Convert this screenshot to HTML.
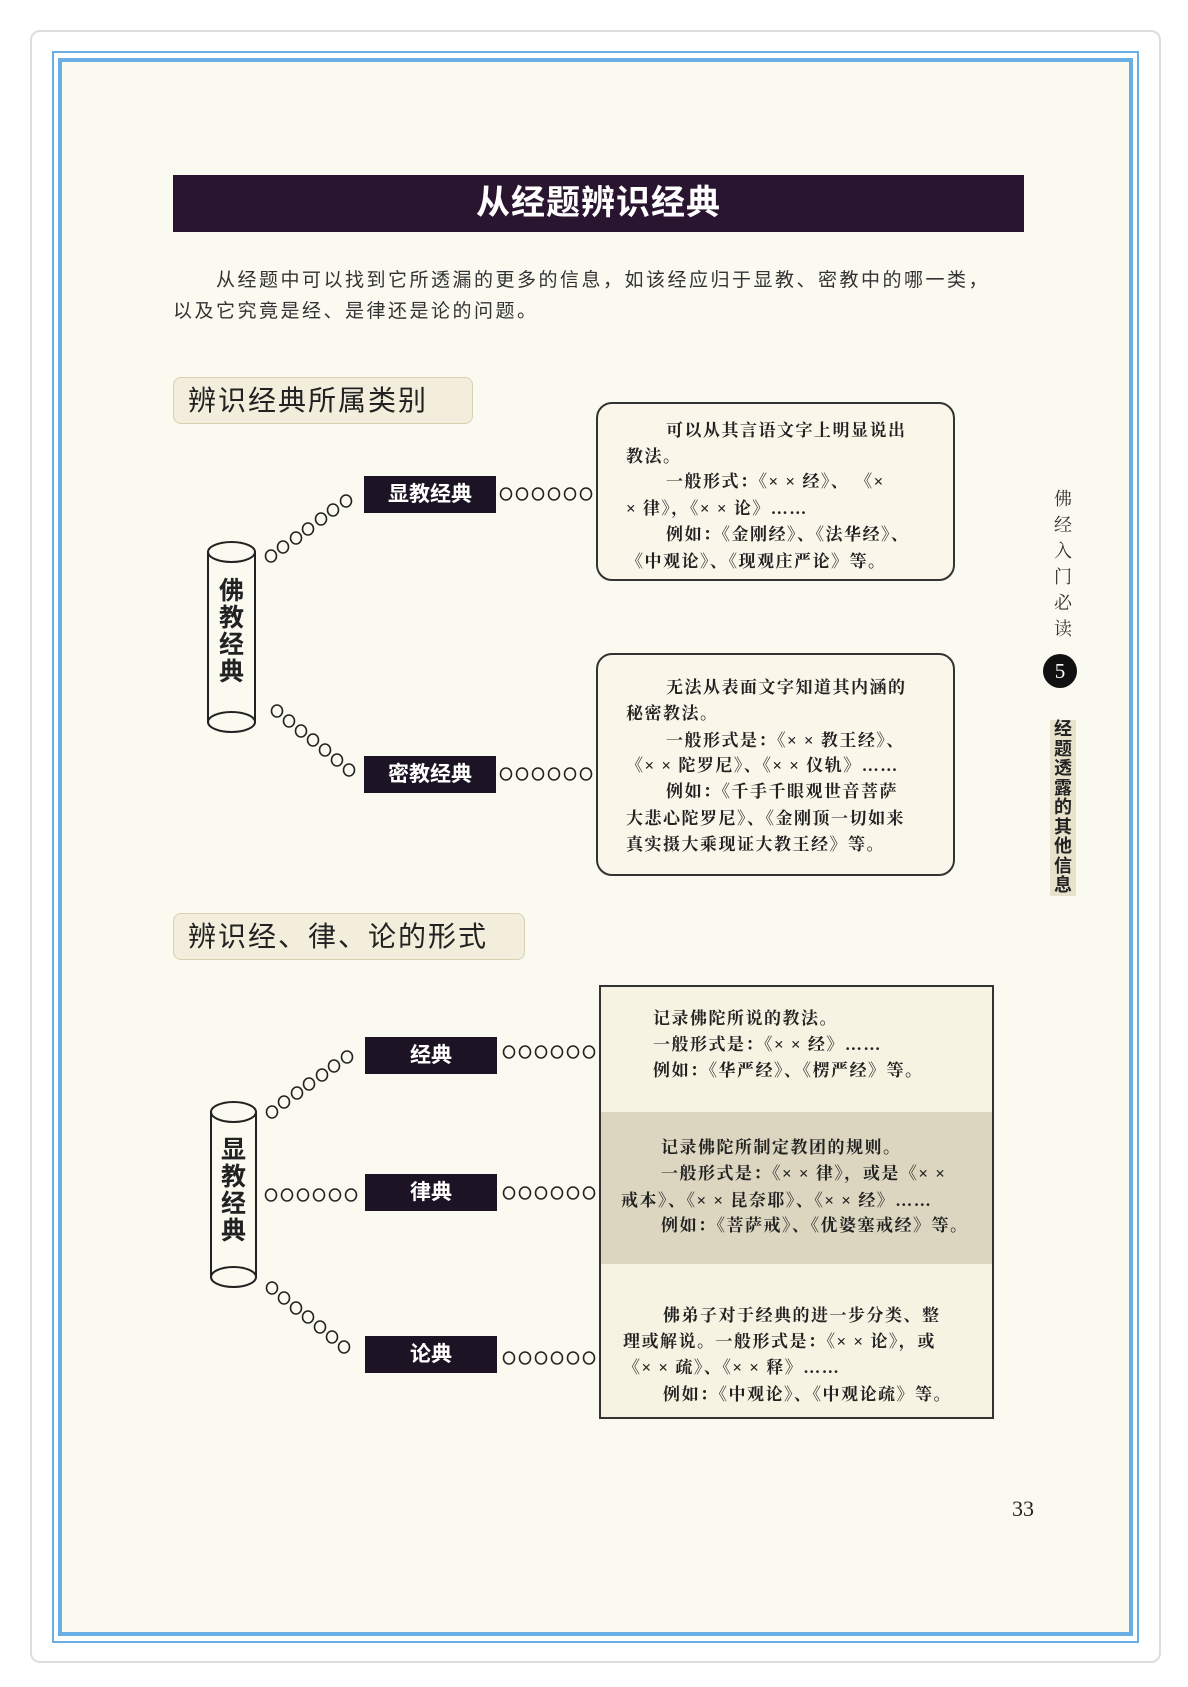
<!DOCTYPE html>
<html><head><meta charset="utf-8"><style>
*{margin:0;padding:0;box-sizing:border-box}
body{width:1188px;height:1687px;background:#fff;position:relative;overflow:hidden;font-family:"Liberation Sans","Noto Sans CJK SC",sans-serif;color:#222}
.a{position:absolute}
.card{left:30px;top:30px;width:1131px;height:1633px;border:2px solid #ddd;border-radius:10px;background:#fff}
.b1{left:52px;top:51px;width:1087px;height:1592px;border:2px solid #6aaee6}
.b2{left:58px;top:58px;width:1075px;height:1578px;border:4px solid #6aaee6;background:#fbfaf0}
.title{left:173px;top:175px;width:851px;height:57px;background:#2a1530;color:#fff;font-weight:bold;font-size:34px;text-align:center;line-height:57px;letter-spacing:1px}
.p{font-size:19px;color:#333;white-space:nowrap;letter-spacing:2.5px}
.sh{background:#f3eedc;border:1px solid #d8d0b0;border-radius:8px;font-size:28px;color:#222;padding-left:14px;line-height:45px;letter-spacing:2px}
.lab{background:#1c1424;color:#fff;font-size:21px;text-align:center;font-weight:bold}
.rb{border:2px solid #333;border-radius:16px;background:#faf7ea}
.t{font-family:"Liberation Serif","Noto Serif CJK SC",serif;font-size:17px;font-weight:bold;color:#222;white-space:nowrap;letter-spacing:1.5px}
</style></head><body>
<div class="a card"></div>
<div class="a b1"></div>
<div class="a b2"></div>
<div class="a title">从经题辨识经典</div>
<div class="a p" style="left:216px;top:265px">从经题中可以找到它所透漏的更多的信息，如该经应归于显教、密教中的哪一类，</div>
<div class="a p" style="left:173px;top:296px">以及它究竟是经、是律还是论的问题。</div>

<div class="a sh" style="left:173px;top:377px;width:300px;height:47px">辨识经典所属类别</div>
<div class="a sh" style="left:173px;top:913px;width:352px;height:47px">辨识经、律、论的形式</div>

<svg class="a" style="left:0;top:0" width="1188" height="1687">
<g fill="#fbfaf0" stroke="#222" stroke-width="2">
<rect x="208" y="552" width="47" height="170"/>
<ellipse cx="231.5" cy="552" rx="23.5" ry="10"/>
<ellipse cx="231.5" cy="722" rx="23.5" ry="10"/>
<rect x="211" y="1112" width="45" height="165"/>
<ellipse cx="233.5" cy="1112" rx="22.5" ry="10"/>
<ellipse cx="233.5" cy="1277" rx="22.5" ry="10"/>
</g>
<g fill="none" stroke="#222" stroke-width="1.6">
<ellipse cx="506" cy="494" rx="5.5" ry="6"/><ellipse cx="522" cy="494" rx="5.5" ry="6"/><ellipse cx="538" cy="494" rx="5.5" ry="6"/><ellipse cx="554" cy="494" rx="5.5" ry="6"/><ellipse cx="570" cy="494" rx="5.5" ry="6"/><ellipse cx="586" cy="494" rx="5.5" ry="6"/>
<ellipse cx="506" cy="774" rx="5.5" ry="6"/><ellipse cx="522" cy="774" rx="5.5" ry="6"/><ellipse cx="538" cy="774" rx="5.5" ry="6"/><ellipse cx="554" cy="774" rx="5.5" ry="6"/><ellipse cx="570" cy="774" rx="5.5" ry="6"/><ellipse cx="586" cy="774" rx="5.5" ry="6"/>
<ellipse cx="271" cy="556" rx="5.5" ry="6"/><ellipse cx="283" cy="547" rx="5.5" ry="6"/><ellipse cx="296" cy="538" rx="5.5" ry="6"/><ellipse cx="308" cy="529" rx="5.5" ry="6"/><ellipse cx="321" cy="519" rx="5.5" ry="6"/><ellipse cx="333" cy="510" rx="5.5" ry="6"/><ellipse cx="346" cy="501" rx="5.5" ry="6"/>
<ellipse cx="277" cy="711" rx="5.5" ry="6"/><ellipse cx="289" cy="721" rx="5.5" ry="6"/><ellipse cx="301" cy="731" rx="5.5" ry="6"/><ellipse cx="313" cy="740" rx="5.5" ry="6"/><ellipse cx="325" cy="750" rx="5.5" ry="6"/><ellipse cx="337" cy="760" rx="5.5" ry="6"/><ellipse cx="349" cy="770" rx="5.5" ry="6"/>
<ellipse cx="509" cy="1052" rx="5.5" ry="6"/><ellipse cx="525" cy="1052" rx="5.5" ry="6"/><ellipse cx="541" cy="1052" rx="5.5" ry="6"/><ellipse cx="557" cy="1052" rx="5.5" ry="6"/><ellipse cx="573" cy="1052" rx="5.5" ry="6"/><ellipse cx="589" cy="1052" rx="5.5" ry="6"/>
<ellipse cx="509" cy="1193" rx="5.5" ry="6"/><ellipse cx="525" cy="1193" rx="5.5" ry="6"/><ellipse cx="541" cy="1193" rx="5.5" ry="6"/><ellipse cx="557" cy="1193" rx="5.5" ry="6"/><ellipse cx="573" cy="1193" rx="5.5" ry="6"/><ellipse cx="589" cy="1193" rx="5.5" ry="6"/>
<ellipse cx="509" cy="1358" rx="5.5" ry="6"/><ellipse cx="525" cy="1358" rx="5.5" ry="6"/><ellipse cx="541" cy="1358" rx="5.5" ry="6"/><ellipse cx="557" cy="1358" rx="5.5" ry="6"/><ellipse cx="573" cy="1358" rx="5.5" ry="6"/><ellipse cx="589" cy="1358" rx="5.5" ry="6"/>
<ellipse cx="271" cy="1195" rx="5.5" ry="6"/><ellipse cx="287" cy="1195" rx="5.5" ry="6"/><ellipse cx="303" cy="1195" rx="5.5" ry="6"/><ellipse cx="319" cy="1195" rx="5.5" ry="6"/><ellipse cx="335" cy="1195" rx="5.5" ry="6"/><ellipse cx="351" cy="1195" rx="5.5" ry="6"/>
<ellipse cx="272" cy="1112" rx="5.5" ry="6"/><ellipse cx="284" cy="1102" rx="5.5" ry="6"/><ellipse cx="297" cy="1093" rx="5.5" ry="6"/><ellipse cx="309" cy="1084" rx="5.5" ry="6"/><ellipse cx="322" cy="1075" rx="5.5" ry="6"/><ellipse cx="334" cy="1066" rx="5.5" ry="6"/><ellipse cx="347" cy="1057" rx="5.5" ry="6"/>
<ellipse cx="272" cy="1288" rx="5.5" ry="6"/><ellipse cx="284" cy="1298" rx="5.5" ry="6"/><ellipse cx="296" cy="1308" rx="5.5" ry="6"/><ellipse cx="308" cy="1317" rx="5.5" ry="6"/><ellipse cx="320" cy="1327" rx="5.5" ry="6"/><ellipse cx="332" cy="1337" rx="5.5" ry="6"/><ellipse cx="344" cy="1347" rx="5.5" ry="6"/>
</g>
</svg>
<div class="a" style="left:208px;top:578px;width:47px;font-size:25px;font-weight:bold;line-height:27px;text-align:center">佛<br>教<br>经<br>典</div>
<div class="a" style="left:211px;top:1137px;width:45px;font-size:25px;font-weight:bold;line-height:27px;text-align:center">显<br>教<br>经<br>典</div>

<div class="a lab" style="left:364px;top:476px;width:132px;height:37px;line-height:37px">显教经典</div>
<div class="a lab" style="left:364px;top:756px;width:132px;height:37px;line-height:37px">密教经典</div>
<div class="a lab" style="left:365px;top:1037px;width:132px;height:37px;line-height:37px">经典</div>
<div class="a lab" style="left:365px;top:1174px;width:132px;height:37px;line-height:37px">律典</div>
<div class="a lab" style="left:365px;top:1336px;width:132px;height:37px;line-height:37px">论典</div>

<div class="a rb" style="left:596px;top:402px;width:359px;height:179px"></div>
<div class="a rb" style="left:596px;top:653px;width:359px;height:223px"></div>
<div class="a t" style="left:666px;top:416px">可以从其言语文字上明显说出</div>
<div class="a t" style="left:626px;top:442px">教法。</div>
<div class="a t" style="left:666px;top:467px">一般形式：《× × 经》、 《×</div>
<div class="a t" style="left:626px;top:494px">× 律》，《× × 论》……</div>
<div class="a t" style="left:666px;top:520px">例如：《金刚经》、《法华经》、</div>
<div class="a t" style="left:626px;top:547px">《中观论》、《现观庄严论》等。</div>

<div class="a t" style="left:666px;top:673px">无法从表面文字知道其内涵的</div>
<div class="a t" style="left:626px;top:699px">秘密教法。</div>
<div class="a t" style="left:666px;top:726px">一般形式是：《× × 教王经》、</div>
<div class="a t" style="left:626px;top:751px">《× × 陀罗尼》、《× × 仪轨》……</div>
<div class="a t" style="left:666px;top:777px">例如：《千手千眼观世音菩萨</div>
<div class="a t" style="left:626px;top:804px">大悲心陀罗尼》、《金刚顶一切如来</div>
<div class="a t" style="left:626px;top:830px">真实摄大乘现证大教王经》等。</div>

<div class="a" style="left:599px;top:985px;width:395px;height:434px;border:2px solid #333;background:#f7f3e2"></div>
<div class="a" style="left:601px;top:1112px;width:391px;height:152px;background:#dcd6c0"></div>
<div class="a t" style="left:653px;top:1004px">记录佛陀所说的教法。</div>
<div class="a t" style="left:653px;top:1030px">一般形式是：《× × 经》……</div>
<div class="a t" style="left:653px;top:1056px">例如：《华严经》、《楞严经》等。</div>
<div class="a t" style="left:661px;top:1133px">记录佛陀所制定教团的规则。</div>
<div class="a t" style="left:661px;top:1159px">一般形式是：《× × 律》，或是《× ×</div>
<div class="a t" style="left:621px;top:1186px">戒本》、《× × 昆奈耶》、《× × 经》……</div>
<div class="a t" style="left:661px;top:1211px">例如：《菩萨戒》、《优婆塞戒经》等。</div>
<div class="a t" style="left:663px;top:1301px">佛弟子对于经典的进一步分类、整</div>
<div class="a t" style="left:623px;top:1327px">理或解说。一般形式是：《× × 论》，或</div>
<div class="a t" style="left:623px;top:1353px">《× × 疏》、《× × 释》……</div>
<div class="a t" style="left:663px;top:1380px">例如：《中观论》、《中观论疏》等。</div>

<div class="a" style="left:1012px;top:1496px;font-family:'Liberation Serif',serif;font-size:22px">33</div>
<div class="a" style="left:1052px;top:486px;width:22px;font-family:'Liberation Serif','Noto Serif CJK SC',serif;font-size:18px;line-height:26px;text-align:center;color:#333">佛<br>经<br>入<br>门<br>必<br>读</div>
<div class="a" style="left:1043px;top:654px;width:34px;height:34px;border-radius:50%;background:#111;color:#fff;text-align:center;line-height:34px;font-size:21px;font-family:'Liberation Serif',serif">5</div>
<div class="a" style="left:1050px;top:720px;width:26px;height:176px;background:#e8e2cc"></div>
<div class="a" style="left:1052px;top:720px;width:22px;font-size:18px;font-weight:bold;line-height:19.5px;text-align:center;color:#222">经<br>题<br>透<br>露<br>的<br>其<br>他<br>信<br>息</div>
</body></html>
